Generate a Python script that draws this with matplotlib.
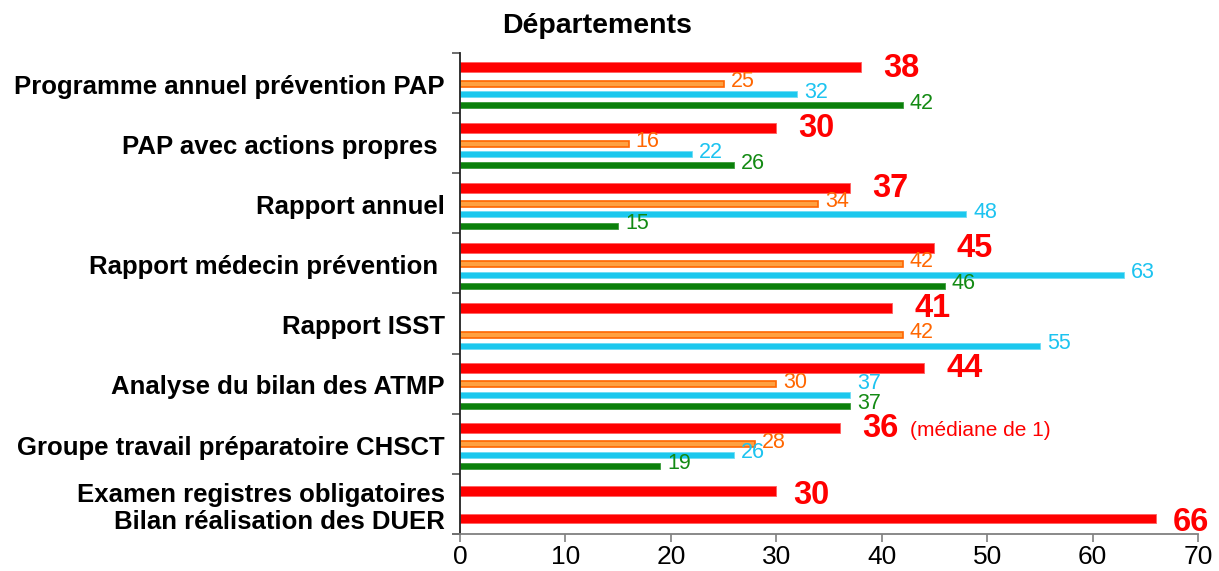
import matplotlib
matplotlib.use('Agg')
import matplotlib.pyplot as plt
import numpy as np

plt.rcParams['font.family'] = ['Liberation Sans', 'DejaVu Sans']

# data
categories = ['Programme annuel prévention PAP', 'PAP avec actions propres ', 'Rapport annuel',
              'Rapport médecin prévention ', 'Rapport ISST', 'Analyse du bilan des ATMP',
              'Groupe travail préparatoire CHSCT']
red_values = [38, 30, 37, 45, 41, 44, 36]
orange_values = [25, 16, 34, 42, 42, 30, 28]
cyan_values = [32, 22, 48, 63, 55, 37, 26]
green_values = [42, 26, 15, 46, None, 37, 19]

single_categories = ['Examen registres obligatoires', 'Bilan réalisation des DUER']
single_values = [30, 66]

x_ticks = [0, 10, 20, 30, 40, 50, 60, 70]
note_text = '(médiane de 1)'

fig = plt.figure(figsize=(12.19, 5.71), dpi=100)
ax = fig.add_axes([0.3774, 0.0648, 0.6054, 0.8424])

# row positions inside one category slot (slot height = 1)
rows = [0.24, 0.51, 0.685, 0.87]
# in the ISST slot the thin bars sit one row lower (empty row left in the source)
row_shift = {4: 1}

# red bars (main value)
for i, v in enumerate(red_values):
    y = i + rows[0]
    ax.barh(y, v, 0.166, color='#FF0000', edgecolor='#FF6060', linewidth=0.6)
    ax.annotate(str(v), xy=(v, y), xytext=(16, -0.5), textcoords='offset points',
                ha='left', va='center', color='#FF0000', fontsize=23.5, fontweight='bold')

series = [
    (orange_values, dict(color='#FFA040', edgecolor='#FF6600', linewidth=1.2), '#FF6600'),
    (cyan_values, dict(color='#1CC8EE', edgecolor='#6FDDF5', linewidth=0.6), '#1CC3F0'),
    (green_values, dict(color='#0A800A', edgecolor='#3A9A3A', linewidth=0.6), '#138A13'),
]

for s, (vals, style, tcol) in enumerate(series):
    for i, v in enumerate(vals):
        if v is None:
            continue
        y = i + rows[s + 1 + row_shift.get(i, 0)]
        ax.barh(y, v, 0.10, **style)
        dy = 1.5
        # lift the label when the next bar below ends at the same value
        if s + 1 < len(series):
            nxt = series[s + 1][0][i]
            if nxt is not None and abs(nxt - v) < 1:
                dy = 8
        ax.annotate(str(v), xy=(v, y), xytext=(5, dy), textcoords='offset points',
                    ha='left', va='center', color=tcol, fontsize=15.5)

# median note after the CHSCT value
ax.annotate(note_text, xy=(red_values[-1], len(categories) - 1 + rows[0]), xytext=(51, -1.5),
            textcoords='offset points', ha='left', va='center', color='#FF0000', fontsize=15)

# last slot: two single red bars
single_pos = [len(categories) + 0.29, len(categories) + 0.745]
ax.barh(single_pos, single_values, 0.16, color='#FF0000', edgecolor='#FF6060', linewidth=0.6)
for p, v in zip(single_pos, single_values):
    ax.annotate(str(v), xy=(v, p), xytext=(12, -3), textcoords='offset points',
                ha='left', va='center', color='#FF0000', fontsize=23.5, fontweight='bold')

# axes styling
n_slots = len(categories) + 1
ax.set_ylim(n_slots, 0)
ax.set_xlim(0, 70)
ax.set_xticks(x_ticks)
ax.set_xticklabels([str(t) for t in x_ticks], fontsize=19)
ax.tick_params(axis='x', direction='out', length=6, width=1.2, color='#808080', pad=2)

label_pos = list(np.arange(len(categories)) + 0.52) + [p + 0.02 for p in single_pos]
ax.set_yticks(label_pos)
ax.set_yticklabels(categories + single_categories, fontsize=18.5, fontweight='bold')
ax.tick_params(axis='y', which='major', length=0, pad=11)
ax.set_yticks(np.arange(0, n_slots + 1), minor=True)
ax.tick_params(axis='y', which='minor', direction='out', length=6, width=1.2, color='#555555')

ax.spines['top'].set_visible(False)
ax.spines['right'].set_visible(False)
ax.spines['left'].set_color('#222222')
ax.spines['left'].set_linewidth(1.3)
ax.spines['bottom'].set_color('#808080')
ax.spines['bottom'].set_linewidth(1.3)

fig.text(597 / 1219, 1 - 26 / 571, 'Départements', ha='center', va='center',
         fontsize=20.5, fontweight='bold')

plt.savefig('out.png', dpi=100)
